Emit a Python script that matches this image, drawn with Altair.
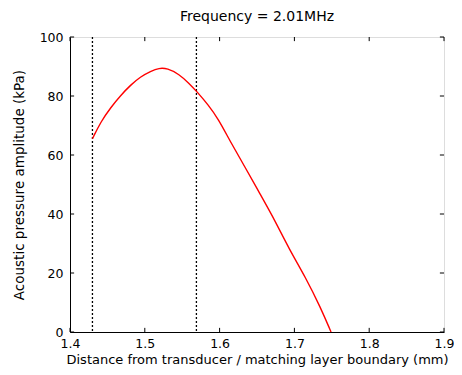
import altair as alt
import pandas as pd

# curve
dist_mm = [1.430, 1.441, 1.455, 1.468, 1.481, 1.494, 1.508, 1.519, 1.530,
           1.546, 1.559, 1.570, 1.585, 1.598, 1.614, 1.634, 1.654, 1.674,
           1.693, 1.715, 1.735, 1.749]
pressure_kpa = [65.5, 71.2, 76.3, 80.3, 83.7, 86.5, 88.4, 89.5, 89.4,
                87.4, 84.3, 81.4, 76.9, 72.3, 64.7, 55.9, 46.8, 37.8,
                28.1, 18.5, 8.3, 0.0]

# vertical boundary markers
boundaries = [1.430, 1.569]

x_ticks = [1.4, 1.5, 1.6, 1.7, 1.8, 1.9]
y_ticks = [0, 20, 40, 60, 80, 100]

curve = pd.DataFrame({"x": dist_mm, "y": pressure_kpa})
bounds = pd.DataFrame({"x": boundaries})
xt = pd.DataFrame({"x": x_ticks})
yt = pd.DataFrame({"y": y_ticks})

FONT = "DejaVu Sans"

xscale = alt.Scale(domain=[1.4, 1.9], nice=False, zero=False)
yscale = alt.Scale(domain=[0, 100], nice=False)

xaxis = alt.Axis(values=x_ticks, format=".1f", tickSize=0, labelPadding=5,
                 title="Distance from transducer / matching layer boundary (mm)",
                 titlePadding=4, grid=False, domainColor="black", labelColor="black",
                 titleColor="black", labelFontSize=12.5, titleFontSize=13,
                 titleFontWeight="normal", labelFont=FONT, titleFont=FONT,
                 labelFlush=False)
yaxis = alt.Axis(values=y_ticks, tickSize=0, labelPadding=7,
                 title="Acoustic pressure amplitude (kPa)", titlePadding=13,
                 grid=False, domainColor="black", labelColor="black",
                 titleColor="black", labelFontSize=12.5, titleFontSize=13.5,
                 titleFontWeight="normal", labelFont=FONT, titleFont=FONT,
                 labelFlush=False)

line = alt.Chart(curve).mark_line(color="#ff0000", strokeWidth=1.4, interpolate="basis").encode(
    x=alt.X("x:Q", scale=xscale, axis=xaxis),
    y=alt.Y("y:Q", scale=yscale, axis=yaxis),
)

vlines = alt.Chart(bounds).mark_rule(color="black", strokeWidth=1.3, strokeDash=[2, 2]).encode(
    x=alt.X("x:Q", scale=xscale),
    y=alt.value(0),
    y2=alt.Y2Value(value={"expr": "height"}),
)

xticks_bottom = alt.Chart(xt).mark_rule(color="black", strokeWidth=1).encode(
    x=alt.X("x:Q", scale=xscale), y=alt.Y("v0:Q", scale=yscale), y2=alt.Y2("v1:Q")
).transform_calculate(v0="0", v1="1.4")
xticks_top = alt.Chart(xt).mark_rule(color="black", strokeWidth=1).encode(
    x=alt.X("x:Q", scale=xscale), y=alt.Y("v0:Q", scale=yscale), y2=alt.Y2("v1:Q")
).transform_calculate(v0="100", v1="98.6")
yticks_left = alt.Chart(yt).mark_rule(color="black", strokeWidth=1).encode(
    y=alt.Y("y:Q", scale=yscale), x=alt.X("u0:Q", scale=xscale), x2=alt.X2("u1:Q")
).transform_calculate(u0="1.4", u1="1.4055")
yticks_right = alt.Chart(yt).mark_rule(color="black", strokeWidth=1).encode(
    y=alt.Y("y:Q", scale=yscale), x=alt.X("u0:Q", scale=xscale), x2=alt.X2("u1:Q")
).transform_calculate(u0="1.9", u1="1.8945")

chart = alt.layer(vlines, line, xticks_bottom, xticks_top, yticks_left, yticks_right).properties(
    width=446, height=359,
    autosize=alt.AutoSizeParams(type="fit", contains="padding"),
    title=alt.TitleParams("Frequency = 2.01MHz", font=FONT, fontSize=14,
                          fontWeight="normal", color="black", offset=7),
    padding={"left": 4, "top": 2, "right": 0, "bottom": 0},
).configure_view(stroke="black", strokeWidth=1.5).configure(background="white")

chart.save("out.html", embed_options={"renderer": "svg", "actions": False})
